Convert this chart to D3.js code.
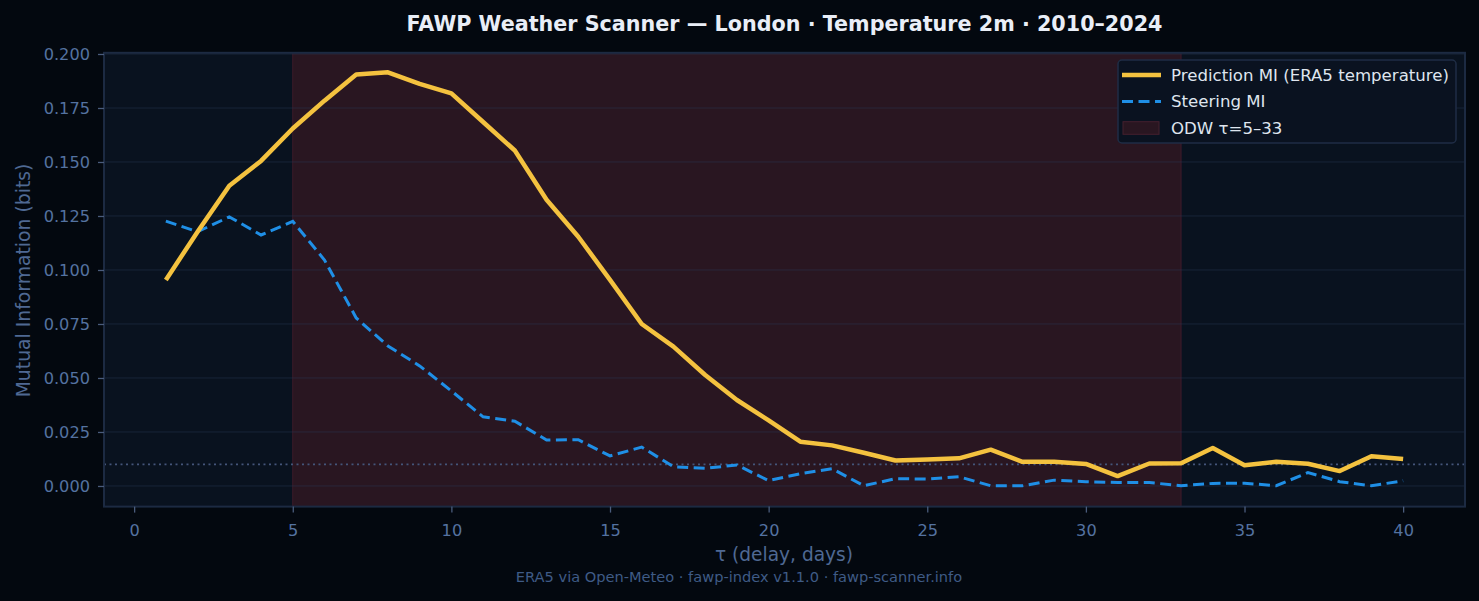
<!DOCTYPE html>
<html>
<head>
<meta charset="utf-8">
<script src="https://cdn.jsdelivr.net/npm/d3@7"></script>
<style>
  body { margin: 0; background: #03080f; }
  svg { display: block; font-family: "DejaVu Sans", sans-serif; }
</style>
</head>
<body>
<script>
// delay values (days)
var tau = d3.range(1, 41);

// Prediction MI (ERA5 temperature)
var predictionMI = [0.0954, 0.1177, 0.1390, 0.1505, 0.1655, 0.1784, 0.1905, 0.1915, 0.1862, 0.1818,
                    0.1685, 0.1553, 0.1325, 0.1154, 0.0954, 0.0750, 0.0645, 0.0514, 0.0398, 0.0304,
                    0.0205, 0.0188, 0.0154, 0.0118, 0.0122, 0.0128, 0.0168, 0.0112, 0.0112, 0.0102,
                    0.0046, 0.0104, 0.0105, 0.0176, 0.0096, 0.0112, 0.0103, 0.0069, 0.0138, 0.0125];

// Steering MI
var steeringMI = [0.1226, 0.1177, 0.1246, 0.1162, 0.1225, 0.1046, 0.0778, 0.0648, 0.0556, 0.0440,
                  0.0320, 0.0300, 0.0213, 0.0214, 0.0139, 0.0180, 0.0089, 0.0082, 0.0097, 0.0025,
                  0.0057, 0.0080, 0.0001, 0.0034, 0.0032, 0.0043, 0.0001, 0.0001, 0.0027, 0.0020,
                  0.0016, 0.0016, 0.0001, 0.0012, 0.0013, 0.0001, 0.0062, 0.0020, 0.0001, 0.0024];

var odw = [5, 33];          // operational detection window
var threshold = 0.01;       // dotted reference line
var xTicks = [0, 5, 10, 15, 20, 25, 30, 35, 40];
var yTicks = [0, 0.025, 0.05, 0.075, 0.1, 0.125, 0.15, 0.175, 0.2];

var W = 1479, H = 601;
var margin = {top: 52.8, right: 14, bottom: 94.4, left: 104};
var width = W - margin.left - margin.right,
    height = H - margin.top - margin.bottom;

var svg = d3.select("body").append("svg")
    .attr("width", W)
    .attr("height", H);

svg.append("rect").attr("width", W).attr("height", H).attr("fill", "#03080f");

var g = svg.append("g")
    .attr("transform", "translate(" + margin.left + "," + margin.top + ")");

var x = d3.scaleLinear().domain([-0.95, 41.95]).range([0, width]);
var y = d3.scaleLinear().domain([-0.00955, 0.20055]).range([height, 0]);

// axes background
g.append("rect")
    .attr("width", width).attr("height", height)
    .attr("fill", "#09121f");

// ODW span
g.append("rect")
    .attr("x", x(odw[0])).attr("y", 0)
    .attr("width", x(odw[1]) - x(odw[0])).attr("height", height)
    .attr("fill", "#291621");
g.selectAll(".odw-edge").data(odw).enter().append("line")
    .attr("x1", function(d) { return x(d); }).attr("x2", function(d) { return x(d); })
    .attr("y1", 0).attr("y2", height)
    .attr("stroke", "#3e1b2a").attr("stroke-width", 1);

// horizontal grid
g.selectAll(".grid").data(yTicks).enter().append("line")
    .attr("x1", 0).attr("x2", width)
    .attr("y1", function(d) { return y(d); }).attr("y2", function(d) { return y(d); })
    .attr("stroke", "#2a3b58").attr("stroke-opacity", 0.45).attr("stroke-width", 1);

// threshold line
g.append("line")
    .attr("x1", 0).attr("x2", width)
    .attr("y1", y(threshold)).attr("y2", y(threshold))
    .attr("stroke", "#44557a").attr("stroke-width", 1.6)
    .attr("stroke-dasharray", "2,3.5");

// lines
var line = function(vals) {
    return d3.line()
        .x(function(d, i) { return x(tau[i]); })
        .y(function(d) { return y(d); })(vals);
};

g.append("path")
    .attr("d", line(steeringMI))
    .attr("fill", "none")
    .attr("stroke", "#1f8fe6")
    .attr("stroke-width", 3)
    .attr("stroke-dasharray", "11,5.5");

g.append("path")
    .attr("d", line(predictionMI))
    .attr("fill", "none")
    .attr("stroke", "#f4c23f")
    .attr("stroke-width", 4.5)
    .attr("stroke-linejoin", "round");

// spines
g.append("rect")
    .attr("width", width).attr("height", height)
    .attr("fill", "none").attr("stroke", "#1c2a42").attr("stroke-width", 2);

// axes
var tickColor = "#5472a0";
var xAxis = g.append("g")
    .attr("transform", "translate(0," + height + ")")
    .call(d3.axisBottom(x).tickValues(xTicks).tickSize(6).tickPadding(12).tickFormat(d3.format("d")));
var yAxis = g.append("g")
    .call(d3.axisLeft(y).tickValues(yTicks).tickSize(6).tickPadding(8).tickFormat(d3.format(".3f")));

[xAxis, yAxis].forEach(function(a) {
    a.select(".domain").remove();
    a.selectAll(".tick line").attr("stroke", "#4a5c7c").attr("stroke-width", 1.3);
    a.selectAll(".tick text")
        .attr("fill", tickColor)
        .attr("font-size", "16.2px")
        .attr("font-family", "DejaVu Sans");
});

// title and labels
svg.append("text")
    .attr("x", 784.5).attr("y", 31)
    .attr("text-anchor", "middle")
    .attr("fill", "#e9eef7")
    .attr("font-size", "20.7px")
    .attr("font-weight", "bold")
    .text("FAWP Weather Scanner \u2014 London \u00b7 Temperature 2m \u00b7 2010\u20132024");

svg.append("text")
    .attr("x", 784).attr("y", 561)
    .attr("text-anchor", "middle")
    .attr("fill", "#4f6993")
    .attr("font-size", "18.6px")
    .text("\u03c4 (delay, days)");

svg.append("text")
    .attr("transform", "translate(29.5,280.5) rotate(-90)")
    .attr("text-anchor", "middle")
    .attr("fill", "#4f6993")
    .attr("font-size", "18.8px")
    .text("Mutual Information (bits)");

svg.append("text")
    .attr("x", 739).attr("y", 582)
    .attr("text-anchor", "middle")
    .attr("fill", "#3f5b86")
    .attr("font-size", "14.6px")
    .text("ERA5 via Open-Meteo \u00b7 fawp-index v1.1.0 \u00b7 fawp-scanner.info");

// legend
var legend = svg.append("g").attr("transform", "translate(1118,60)");
legend.append("rect")
    .attr("width", 338).attr("height", 83).attr("rx", 4)
    .attr("fill", "#0a1220").attr("stroke", "#1f2d45").attr("stroke-width", 1.5);

var items = [
    {label: "Prediction MI (ERA5 temperature)", type: "solid"},
    {label: "Steering MI", type: "dash"},
    {label: "ODW \u03c4=5\u201333", type: "patch"}
];
items.forEach(function(it, i) {
    var cy = 15 + i * 26.5;
    if (it.type === "solid") {
        legend.append("line").attr("x1", 4).attr("x2", 43).attr("y1", cy).attr("y2", cy)
            .attr("stroke", "#f4c23f").attr("stroke-width", 4.5);
    } else if (it.type === "dash") {
        legend.append("line").attr("x1", 4).attr("x2", 43).attr("y1", cy).attr("y2", cy)
            .attr("stroke", "#1f8fe6").attr("stroke-width", 3).attr("stroke-dasharray", "11,5.5");
    } else {
        legend.append("rect").attr("x", 5).attr("y", cy - 6.3).attr("width", 36).attr("height", 12.6)
            .attr("fill", "#291621").attr("stroke", "#45202e").attr("stroke-width", 1);
    }
    legend.append("text")
        .attr("x", 53).attr("y", cy).attr("dy", "0.36em")
        .attr("fill", "#dfe5ee")
        .attr("font-size", "16.6px")
        .text(it.label);
});
</script>
</body>
</html>
